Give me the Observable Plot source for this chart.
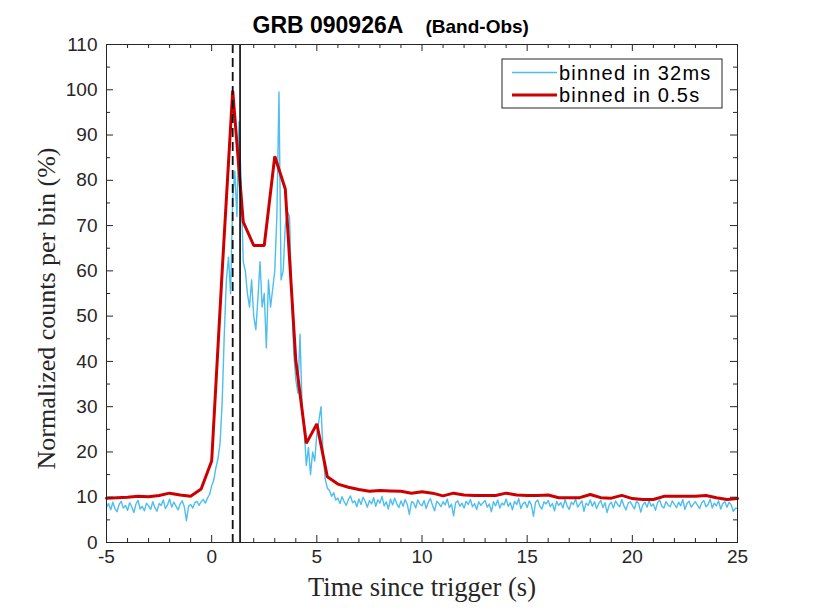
<!DOCTYPE html>
<html><head><meta charset="utf-8">
<script src="https://cdn.jsdelivr.net/npm/d3@7"></script>
<script src="https://cdn.jsdelivr.net/npm/@observablehq/plot@0.6"></script>
<style>
body{margin:0;background:#fff;}
#wrap{position:relative;width:814px;height:610px;}
#legend{position:absolute;left:501px;top:58px;}
</style></head>
<body><div id="wrap"></div>
<script>
// Fine light curve (plotted on a 0.1 s grid starting at -5 s)
const fineStart = -5;
const fineStep = 0.1;
const fineCounts = [
  7.8, 8.6, 7.2, 8.9, 7.5, 6.8, 8.4, 9.1, 7.6, 8.2,
  7.1, 8.8, 7.9, 6.6, 8.5, 9.3, 7.4, 8.0, 7.0, 8.7,
  8.1, 7.3, 9.0, 7.7, 6.9, 8.6, 8.2, 9.4, 7.5, 8.3,
  9.6, 7.8, 8.9, 8.1, 7.2, 8.5, 9.2, 7.9, 4.8, 8.0,
  8.4, 7.6, 8.8, 9.1, 8.2, 9.0, 9.5, 8.7, 9.8, 10.6,
  12.5, 13.8, 16.5, 18.5, 22, 31, 46, 58, 63, 55,
  76, 82, 72, 93, 80, 62, 60, 55, 52, 58,
  50, 47, 54, 62, 52, 55, 43, 58, 52, 56,
  60, 72, 99.5, 58, 60, 70, 73, 72, 55, 42,
  36, 33, 46, 30, 25, 17, 21, 15, 20, 18,
  24, 27, 30, 19, 14, 12, 11.5, 10.2, 11.0, 9.4,
  9.8, 8.6, 10.1, 9.0, 8.2, 9.5, 10.3, 8.8, 9.2, 7.9,
  9.6, 8.4, 10.0, 9.1, 7.8, 9.3, 8.5, 9.9, 8.0, 9.4,
  8.7, 10.2, 8.1, 9.0, 7.4, 9.6, 8.3, 9.8, 8.6, 7.7,
  9.2, 8.0, 9.5, 8.4, 6.2, 9.0, 8.8, 7.6, 9.4, 8.5,
  8.1, 9.3, 7.5, 8.9, 9.7, 8.2, 7.0, 9.1, 8.6, 7.9,
  9.0, 8.3, 9.6, 7.7, 8.5, 5.9, 8.8, 9.2, 8.0, 8.7,
  7.6, 9.1, 8.4, 9.5, 7.9, 8.6, 7.3, 9.0, 8.2, 8.8,
  9.3, 7.8, 8.5, 6.8, 9.0, 8.1, 9.4, 7.6, 8.7, 8.3,
  9.6, 8.0, 8.8, 7.2, 9.1, 8.4, 9.7, 7.5, 8.6, 8.9,
  7.7, 9.2, 8.3, 5.8, 8.9, 9.4, 8.0, 7.4, 9.0, 8.5,
  9.3, 7.9, 8.6, 7.0, 9.1, 8.2, 8.8, 7.6, 9.5, 8.1,
  7.3, 8.9, 8.4, 9.6, 7.8, 8.5, 9.2, 6.9, 8.7, 8.2,
  9.4, 8.0, 9.0, 7.5, 8.6, 9.3, 7.7, 8.8, 6.6, 8.3,
  8.9, 7.6, 9.2, 8.4, 7.9, 9.5, 8.1, 7.2, 8.7, 9.0,
  8.2, 7.4, 9.1, 8.6, 6.7, 8.3, 8.9, 7.8, 9.3, 8.0,
  8.5, 7.1, 8.8, 9.4, 8.0, 7.6, 9.0, 8.3, 7.9, 9.2,
  8.4, 7.7, 8.9, 8.1, 9.5, 7.3, 8.6, 9.1, 7.8, 8.5,
  9.0, 8.2, 7.5, 8.8, 9.3, 7.9, 8.4, 9.6, 7.6, 8.7,
  8.1, 9.2, 7.4, 8.6, 9.0, 7.8, 8.9, 8.3, 6.9, 7.6, 7.5
];

// Coarse light curve (0.5 s bins)
const coarseTimes = [
  -5, -4.5, -4, -3.5, -3, -2.5, -2, -1.5, -1, -0.5,
  0, 0.5, 1, 1.5, 2, 2.5, 3, 3.5, 4, 4.5,
  5, 5.5, 6, 6.5, 7, 7.5, 8, 8.5, 9, 9.5,
  10, 10.5, 11, 11.5, 12, 12.5, 13, 13.5, 14, 14.5,
  15, 15.5, 16, 16.5, 17, 17.5, 18, 18.5, 19, 19.5,
  20, 20.5, 21, 21.5, 22, 22.5, 23, 23.5, 24, 24.5, 25
];
const coarseCounts = [
  9.8, 9.9, 10.0, 10.2, 10.1, 10.4, 10.9, 10.5, 10.2, 11.8,
  18.0, 60.0, 99.8, 70.8, 65.6, 65.6, 85.3, 78.1, 40.2, 21.9,
  26.2, 14.5, 12.9, 12.2, 11.7, 11.3, 11.5, 11.4, 11.3, 10.9,
  11.2, 10.9, 10.3, 10.9, 10.5, 10.4, 10.4, 10.4, 10.9, 10.5,
  10.4, 10.4, 10.5, 9.9, 9.9, 9.9, 10.6, 9.9, 9.8, 10.4,
  9.7, 9.5, 9.5, 10.2, 10.2, 10.2, 10.2, 10.4, 9.9, 9.5, 9.7
];

const markerTimes = {dashed: 1.0, solid: 1.35};

const xTickLabels = [-5, 0, 5, 10, 15, 20, 25];
const xMinorTicks = [-4,-3,-2,-1,1,2,3,4,6,7,8,9,11,12,13,14,16,17,18,19,21,22,23,24];
const yTickLabels = [0, 10, 20, 30, 40, 50, 60, 70, 80, 90, 100, 110];
const yMinorTicks = [5, 15, 25, 35, 45, 55, 65, 75, 85, 95, 105];

const titleMain = "GRB 090926A";
const titleSub = "(Band-Obs)";
const xLabel = "Time since trigger (s)";
const yLabel = "Normalized counts per bin (%)";
const legendLabels = ["binned in 32ms", "binned in 0.5s"];
const colors = ["#4DBEEE", "#CC0000"];

const fine = fineCounts.map((v, i) => ({t: fineStart + i * fineStep, v}));
const coarse = coarseTimes.map((t, i) => ({t, v: coarseCounts[i]}));

const W = 814, H = 610, mT = 44, mB = 68, mL = 106, mR = 77;
const pW = W - mL - mR, pH = H - mT - mB;
const axisColor = "#262626";
const major = 7, minor = 4;
const serif = "'Liberation Serif', 'Times New Roman', serif";

const chart = Plot.plot({
  width: W, height: H,
  marginTop: mT, marginBottom: mB, marginLeft: mL, marginRight: mR,
  x: {domain: [-5, 25]},
  y: {domain: [0, 110]},
  style: {fontFamily: "'Liberation Sans', Arial, sans-serif", fontSize: "19px", color: axisColor, background: "white", overflow: "visible"},
  marks: [
    Plot.line(fine, {x: "t", y: "v", stroke: colors[0], strokeWidth: 1.4}),
    Plot.line(coarse, {x: "t", y: "v", stroke: colors[1], strokeWidth: 3, strokeLinejoin: "miter"}),
    Plot.ruleX([markerTimes.dashed], {stroke: "#111", strokeWidth: 1.8, strokeDasharray: "9,5"}),
    Plot.ruleX([markerTimes.solid], {stroke: "#111", strokeWidth: 1.7}),
    Plot.frame({stroke: axisColor, strokeWidth: 1}),
    Plot.ruleX(xTickLabels, {insetTop: pH - major, stroke: axisColor}),
    Plot.ruleX(xTickLabels, {insetBottom: pH - major, stroke: axisColor}),
    Plot.ruleX(xMinorTicks, {insetTop: pH - minor, stroke: axisColor}),
    Plot.ruleX(xMinorTicks, {insetBottom: pH - minor, stroke: axisColor}),
    Plot.ruleY(yTickLabels, {insetRight: pW - major, stroke: axisColor}),
    Plot.ruleY(yTickLabels, {insetLeft: pW - major, stroke: axisColor}),
    Plot.ruleY(yMinorTicks, {insetRight: pW - minor, stroke: axisColor}),
    Plot.ruleY(yMinorTicks, {insetLeft: pW - minor, stroke: axisColor}),
    Plot.axisX(xTickLabels, {anchor: "bottom", tickSize: 0, tickPadding: 7, tickFormat: d => String(d), fontSize: 19, label: null, fill: axisColor}),
    Plot.axisY(yTickLabels, {anchor: "left", tickSize: 0, tickPadding: 9, tickFormat: d => String(d), fontSize: 19, label: null, fill: axisColor}),
    Plot.text([xLabel], {frameAnchor: "bottom", dy: 53, lineAnchor: "bottom", textAnchor: "middle", text: d => d, fontFamily: serif, fontSize: 26.5, fill: axisColor}),
    Plot.text([yLabel], {frameAnchor: "left", dx: -52, dy: 15, rotate: -90, lineAnchor: "bottom", textAnchor: "middle", text: d => d, fontFamily: serif, fontSize: 26, fill: axisColor}),
    Plot.text([titleMain], {frameAnchor: "top-left", dx: 146, dy: -12, lineAnchor: "bottom", textAnchor: "start", text: d => d, fontWeight: "bold", fontSize: 23, fill: "#000"}),
    Plot.text([titleSub], {frameAnchor: "top-left", dx: 319, dy: -12, lineAnchor: "bottom", textAnchor: "start", text: d => d, fontWeight: "bold", fontSize: 19, fill: "#000"})
  ]
});
document.getElementById("wrap").appendChild(chart);

// Legend (separate small SVG placed over the top right of the plot)
const lg = d3.select("#wrap").append("svg").attr("id", "legend")
  .attr("width", 223).attr("height", 52);
lg.append("rect").attr("x", 1).attr("y", 1).attr("width", 220).attr("height", 49)
  .attr("fill", "white").attr("stroke", axisColor).attr("stroke-width", 1);
legendLabels.forEach((lab, i) => {
  const cy = i === 0 ? 14.5 : 37;
  lg.append("line").attr("x1", 11).attr("x2", 56).attr("y1", cy).attr("y2", cy)
    .attr("stroke", colors[i]).attr("stroke-width", i === 0 ? 1.5 : 3);
  lg.append("text").attr("x", 58).attr("y", cy + 7)
    .attr("font-family", "'Liberation Sans', Arial, sans-serif").attr("font-size", 20)
    .attr("letter-spacing", "1.2px")
    .attr("fill", "#000").text(lab);
});
</script>
</body></html>
